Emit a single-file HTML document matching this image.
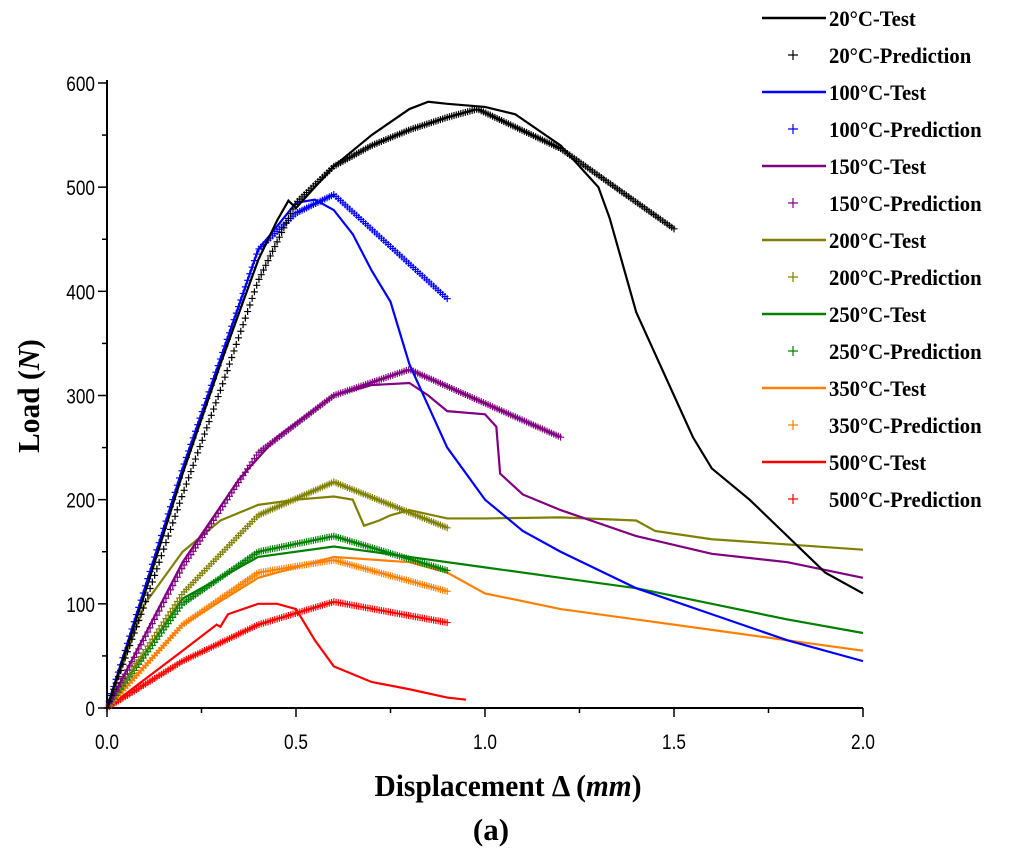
<!DOCTYPE html>
<html><head><meta charset="utf-8"><style>
body{margin:0;background:#fff;}
svg{display:block;}
.tick{font-family:"Liberation Sans",sans-serif;font-size:21px;}
.leg{font-family:"Liberation Serif",serif;font-weight:bold;font-size:22px;}
.ttl{font-family:"Liberation Serif",serif;font-weight:bold;font-size:31px;}
</style></head><body>
<svg id="chart" width="1024" height="861">
<g id="axes"></g><g id="series"></g><g id="legend"></g>
<text class="ttl" x="0" y="0" text-anchor="middle" transform="translate(508,796) scale(0.95,1)">Displacement Δ (<tspan font-style="italic">mm</tspan>)</text>
<text class="ttl" x="0" y="0" text-anchor="middle" transform="translate(39,396) rotate(-90) scale(0.95,1)">Load (<tspan font-style="italic">N</tspan>)</text>
<text class="ttl" x="491" y="840" text-anchor="middle" font-weight="normal" font-size="30">(<tspan font-weight="bold">a</tspan>)</text>
</svg>
<script>
const xTicks=[0,0.5,1.0,1.5,2.0];
const xTickLabels=["0.0","0.5","1.0","1.5","2.0"];
const yTicks=[0,100,200,300,400,500,600];
const names=["20°C","100°C","150°C","200°C","250°C","350°C","500°C"];
const colors=["#000000","#0000ff","#800080","#808000","#008000","#ff8000","#ff0000"];
const test20=[[0,0],[0.1,110],[0.2,225],[0.3,330],[0.4,430],[0.45,468],[0.48,487],[0.5,480],[0.55,500],[0.6,520],[0.7,550],[0.8,575],[0.85,582],[0.9,580],[1.0,577],[1.08,570],[1.2,540],[1.3,500],[1.33,470],[1.4,380],[1.5,300],[1.55,260],[1.6,230],[1.7,200],[1.8,165],[1.9,130],[2.0,110]];
const test100=[[0,0],[0.2,230],[0.4,440],[0.5,485],[0.55,488],[0.6,478],[0.65,455],[0.7,420],[0.75,390],[0.8,330],[0.85,290],[0.9,250],[1.0,200],[1.1,170],[1.2,150],[1.4,115],[1.6,90],[1.8,65],[2.0,45]];
const test150=[[0,0],[0.2,140],[0.35,220],[0.45,260],[0.6,300],[0.7,310],[0.8,312],[0.85,300],[0.9,285],[1.0,282],[1.03,270],[1.04,225],[1.1,205],[1.2,190],[1.4,165],[1.6,148],[1.8,140],[2.0,125]];
const test200=[[0,0],[0.1,100],[0.2,150],[0.3,180],[0.4,195],[0.5,200],[0.6,203],[0.65,200],[0.68,175],[0.72,180],[0.75,185],[0.8,190],[0.9,182],[1.0,182],[1.2,183],[1.4,180],[1.45,170],[1.6,162],[2.0,152]];
const test250=[[0,0],[0.2,105],[0.4,145],[0.6,155],[0.8,145],[1.0,135],[1.2,125],[1.4,115],[1.6,100],[1.8,85],[2.0,72]];
const test350=[[0,0],[0.2,80],[0.4,125],[0.6,145],[0.8,140],[0.9,130],[1.0,110],[1.2,95],[1.4,85],[1.6,75],[1.8,65],[2.0,55]];
const test500=[[0,0],[0.2,55],[0.29,80],[0.3,78],[0.32,90],[0.4,100],[0.45,100],[0.5,95],[0.55,65],[0.6,40],[0.7,25],[0.8,18],[0.9,10],[0.95,8]];
const pred20=[[0,0],[0.1,100],[0.2,205],[0.3,305],[0.4,410],[0.5,485],[0.6,520],[0.7,540],[0.8,555],[0.9,567],[0.98,575],[1.2,537],[1.5,460]];
const pred100=[[0,0],[0.2,230],[0.4,440],[0.5,475],[0.6,493],[0.9,393]];
const pred150=[[0,0],[0.2,135],[0.4,245],[0.6,300],[0.8,325],[1.2,260]];
const pred200=[[0,0],[0.2,110],[0.4,185],[0.6,217],[0.9,173]];
const pred250=[[0,0],[0.2,100],[0.4,150],[0.6,165],[0.9,132]];
const pred350=[[0,0],[0.2,80],[0.4,130],[0.6,142],[0.9,112]];
const pred500=[[0,0],[0.2,45],[0.4,80],[0.6,102],[0.9,82]];
const tests=[test20,test100,test150,test200,test250,test350,test500];
const preds=[pred20,pred100,pred150,pred200,pred250,pred350,pred500];
const NS="http://www.w3.org/2000/svg";
const X0=107,X1=863,Y0=708,Y1=83;
const xs=v=>X0+(v/2)*(X1-X0);
const ys=v=>Y0-(v/600)*(Y0-Y1);
function mk(tag,attrs,parent){const e=document.createElementNS(NS,tag);for(const k in attrs)e.setAttribute(k,attrs[k]);parent.appendChild(e);return e;}
const ax=document.getElementById('axes');
let l=mk('line',{x1:X0,y1:Y0,x2:X1,y2:Y0,stroke:'#000','stroke-width':2},ax);


l=mk('line',{x1:X0,y1:Y0,x2:X0,y2:Y1-3,stroke:'#000','stroke-width':2},ax);


for(let i=0;i<=8;i++){const v=i*0.25,x=xs(v);mk('line',{x1:x,y1:Y0,x2:x,y2:Y0+(i%2?5:9),stroke:'#000','stroke-width':1.5},ax);}
xTicks.forEach((v,i)=>{const t=mk('text',{x:0,y:0,'text-anchor':'middle',class:'tick',transform:`translate(${xs(v)},${Y0+41}) scale(0.82,1)`},ax);t.textContent=xTickLabels[i];

});
for(let i=0;i<=12;i++){const y=ys(i*50);mk('line',{x1:X0,y1:y,x2:X0-(i%2?5:9),y2:y,stroke:'#000','stroke-width':1.5},ax);}
yTicks.forEach(v=>{const t=mk('text',{x:0,y:0,'text-anchor':'end',class:'tick',transform:`translate(${X0-12},${ys(v)+8}) scale(0.82,1)`},ax);t.textContent=String(v);

});
const sg=document.getElementById('series');
function interp(p,x){for(let i=1;i<p.length;i++){if(x<=p[i][0]){const a=p[i-1],b=p[i];return a[1]+(b[1]-a[1])*(x-a[0])/(b[0]-a[0]);}}return p[p.length-1][1];}
for(let s=6;s>=0;s--){
  const pd=preds[s];const xmax=pd[pd.length-1][0];
  let d='';
  for(let x=0;x<=xmax+1e-9;x+=0.006){const px=xs(x),py=ys(interp(pd,x));d+=`M${px-3.5},${py}h7M${px},${py-3.5}v7`;}
  const pp=mk('path',{d:d,stroke:colors[s],'stroke-width':1.2,fill:'none'},sg);
  
  
  const tl=mk('polyline',{points:tests[s].map(p=>xs(p[0])+','+ys(p[1])).join(' '),stroke:colors[s],'stroke-width':2.2,fill:'none'},sg);
  
  
}
const lg=document.getElementById('legend');
for(let i=0;i<7;i++){
  const y1=18+i*74,y2=y1+37;
  const g=mk('g',{},lg);
  
  
  mk('line',{x1:762,y1:y1,x2:826,y2:y1,stroke:colors[i],'stroke-width':2.5},g);
  let t=mk('text',{x:0,y:0,class:'leg',transform:`translate(829,${y1+8}) scale(0.94,1)`},g);t.textContent=names[i]+'-Test';
  mk('path',{d:`M${793},${y2-5}v10M${788},${y2}h10`,stroke:colors[i],'stroke-width':1.2},g);
  t=mk('text',{x:0,y:0,class:'leg',transform:`translate(829,${y2+8}) scale(0.94,1)`},g);t.textContent=names[i]+'-Prediction';
}
</script>
</body></html>
